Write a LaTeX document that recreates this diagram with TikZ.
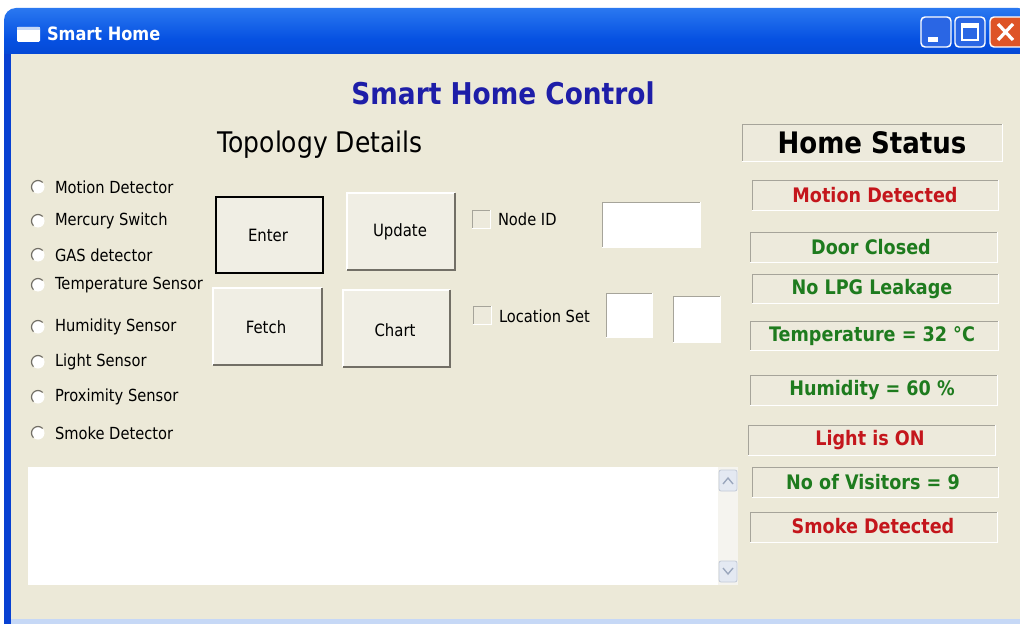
\documentclass[tikz,border=0pt]{standalone}
\usepackage{fontspec}
\newfontfamily\tah[FakeStretch=0.88]{DejaVu Sans}
\definecolor{bg}{HTML}{ECE9D8}
\definecolor{boxfill}{HTML}{EDEADC}
\definecolor{btnfill}{HTML}{F0EEE4}
\definecolor{edgegray}{HTML}{A6A49A}
\definecolor{shadowgray}{HTML}{726F66}
\definecolor{headblue}{HTML}{1E1EA8}
\definecolor{stred}{HTML}{C4161C}
\definecolor{stgreen}{HTML}{1E7B1E}
\definecolor{tbtop}{HTML}{2A78F0}
\definecolor{tbmid}{HTML}{0651E2}
\definecolor{tbbot}{HTML}{0440C8}
\definecolor{frameblue}{HTML}{0841D2}
\definecolor{ltblue}{HTML}{C6D8F6}
\definecolor{minblue}{HTML}{2A66E4}
\definecolor{closered}{HTML}{DE5426}
\definecolor{sbtrack}{HTML}{F5F4EF}
\definecolor{sbbtn}{HTML}{E4E9F2}
\definecolor{sbarrow}{HTML}{9AA6BC}
\newcommand\sunkbox[5]{%
  \fill[#5] (#1,#2) rectangle (#3,#4);
  \draw[edgegray, line width=0.6pt] (#1,#4) -- (#1,#2) -- (#3,#2);
  \draw[white, line width=0.6pt] (#3,#2) -- (#3,#4) -- (#1,#4);
}
\newcommand\btnbox[4]{%
  \fill[btnfill] (#1,#2) rectangle (#3,#4);
  \draw[white, line width=1pt] (#1,#4) -- (#1,#2) -- (#3,#2);
  \draw[shadowgray, line width=1.6pt] (#3,#2) -- (#3,#4) -- (#1,#4);
}
\tikzset{
  every node/.style={inner sep=0pt, outer sep=0pt},
  uitext/.style={font=\tah\fontsize{12.5}{15}\selectfont, text=black},
  radiolbl/.style={uitext, anchor=west},
  btntext/.style={font=\tah\fontsize{12.7}{15}\selectfont},
  statustxt/.style={font=\tah\bfseries\fontsize{15}{18}\selectfont},
  redtxt/.style={statustxt, text=stred},
  greentxt/.style={statustxt, text=stgreen},
}
\begin{document}
\begin{tikzpicture}[x=0.75pt, y=-0.75pt]
\useasboundingbox (0,0) rectangle (1020,624);
\fill[white] (0,0) rectangle (1020,624);
% window frame and title bar
\shade[top color=tbtop, bottom color=tbbot, middle color=tbmid, rounded corners=9]
  (4,70) -- (4,8) -- (1030,8) -- (1030,70) -- cycle;
\fill[frameblue] (4,54) rectangle (12,624);
\fill[bg] (11,54) rectangle (1020,619);
\fill[ltblue] (11,619) rectangle (1020,624);
% title icon and text
\fill[white, rounded corners=1] (17,27) rectangle (40,42);
\fill[ltblue] (17,27) rectangle (40,30);
\node[anchor=west, text=white, font=\tah\bfseries\fontsize{13.8}{16}\selectfont] (title) at (47,34) {Smart Home};
% title buttons
\fill[minblue, rounded corners=3] (921,17) rectangle (951,47);
\draw[white, line width=1.1pt, rounded corners=3] (921,17) rectangle (951,47);
\fill[white] (928,37) rectangle (938,42);
\fill[minblue, rounded corners=3] (955,17) rectangle (985,47);
\draw[white, line width=1.1pt, rounded corners=3] (955,17) rectangle (985,47);
\draw[white, line width=1pt] (962,24) rectangle (978,40);
\fill[white] (962,24) rectangle (978,28);
\fill[closered, rounded corners=3] (990,17) rectangle (1026,47);
\draw[white, line width=1.1pt, rounded corners=3] (990,17) rectangle (1026,47);
\draw[white, line width=2.4pt] (998,24) -- (1013,40) (1013,24) -- (998,40);
% headings
\node[font=\tah\bfseries\fontsize{22.5}{26}\selectfont, text=headblue] (head) at (503,93) {Smart Home Control};
\node[font=\tah\fontsize{21.3}{24}\selectfont] (topo) at (320,145) {Topology Details};
% radio buttons
\foreach \yy/\lbl [count=\i] in {187/Motion Detector, 221/Mercury Switch, 255/GAS detector,
    285/Temperature Sensor, 327/Humidity Sensor, 362/Light Sensor, 397/Proximity Sensor, 433/Smoke Detector}{
  \fill[white] (38,\yy) circle[radius=6.5];
  \begin{scope}
    \clip (28,\yy-10) -- (48,\yy-10) -- (28,\yy+10) -- cycle;
    \draw[shadowgray, line width=0.9pt] (38,\yy) circle[radius=6.5];
  \end{scope}
  \node[radiolbl] (r\i) at (55,\yy) {\lbl};
}
% buttons
\btnbox{216}{197}{323}{273}
\draw[black, line width=1.3pt] (216,197) rectangle (323,273);
\node[btntext] (enter) at (268,235) {Enter};
\btnbox{347}{193}{455}{270}
\node[btntext] (update) at (400,232) {Update};
\btnbox{213}{288}{322}{365}
\node[btntext] (fetch) at (266,327) {Fetch};
\btnbox{343}{290}{450}{367}
\node[btntext] (chart) at (395,330) {Chart};
% checkboxes and text boxes
\sunkbox{472}{210}{490}{228}{boxfill}
\node[uitext, anchor=west] (nodeid) at (498,219) {Node ID};
\sunkbox{602}{202}{700}{247}{white}
\sunkbox{473}{306}{491}{324}{boxfill}
\node[uitext, anchor=west] (locset) at (499,316) {Location Set};
\sunkbox{606}{293}{652}{337}{white}
\sunkbox{673}{296}{720}{342}{white}
% home status
\sunkbox{742}{124}{1002}{161}{boxfill}
\node[font=\tah\bfseries\fontsize{22.2}{26}\selectfont] (hs) at (872,143) {Home Status};
\sunkbox{752}{180}{998}{210}{boxfill}
\node[redtxt] (s1) at (875,195) {Motion Detected};
\sunkbox{750}{232}{997}{262}{boxfill}
\node[greentxt] (s2) at (871,247) {Door Closed};
\sunkbox{752}{274}{998}{303}{boxfill}
\node[greentxt] (s3) at (872,289) {No LPG Leakage};
\sunkbox{750}{321}{998}{350}{boxfill}
\node[greentxt] (s4) at (872,336) {Temperature = 32 °C};
\sunkbox{750}{375}{997}{405}{boxfill}
\node[greentxt] (s5) at (872,390) {Humidity = 60 \%};
\sunkbox{748}{425}{995}{455}{boxfill}
\node[redtxt] (s6) at (870,440) {Light is ON};
\sunkbox{752}{467}{998}{497}{boxfill}
\node[greentxt] (s7) at (873,482) {No of Visitors = 9};
\sunkbox{750}{512}{997}{542}{boxfill}
\node[redtxt] (s8) at (873,526) {Smoke Detected};
% text area with scrollbar
\fill[white] (28,467) rectangle (718,585);
\fill[sbtrack] (718,467) rectangle (738,585);
\fill[sbbtn, rounded corners=1.5] (719,470) rectangle (737,491);
\draw[sbarrow!60, line width=0.6pt, rounded corners=1.5] (719,470) rectangle (737,491);
\draw[sbarrow, line width=1pt] (723,484) -- (728,478) -- (733,484);
\fill[sbbtn, rounded corners=1.5] (719,561) rectangle (737,582);
\draw[sbarrow!60, line width=0.6pt, rounded corners=1.5] (719,561) rectangle (737,582);
\draw[sbarrow, line width=1pt] (723,568) -- (728,574) -- (733,568);
\end{tikzpicture}
\end{document}
